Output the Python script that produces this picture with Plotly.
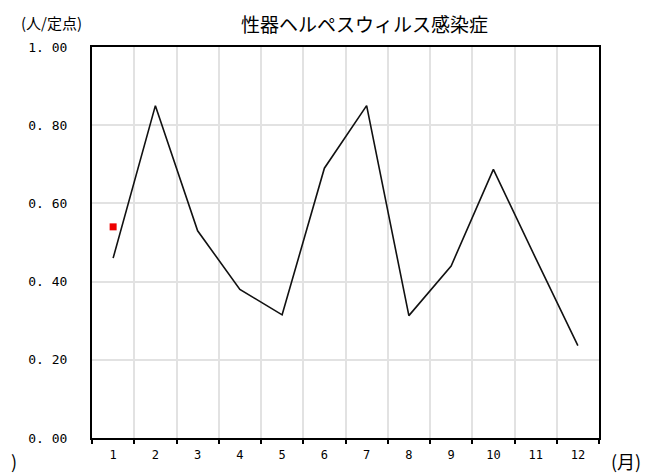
import plotly.graph_objects as go

months = list(range(1, 13))
month_labels = [str(m) for m in months]
avg_values = [0.46, 0.85, 0.53, 0.38, 0.315, 0.69, 0.85, 0.313, 0.44, 0.687, 0.46, 0.236]
current_months = [1]
current_values = [0.54]
y_ticks = [0.0, 0.2, 0.4, 0.6, 0.8, 1.0]
y_tick_labels = ["0. 00", "0. 20", "0. 40", "0. 60", "0. 80", "1. 00"]
boundaries = [m - 0.5 for m in months] + [12.5]

fig = go.Figure()
fig.add_trace(go.Scatter(x=months, y=avg_values, mode="lines",
                         line=dict(color="#111111", width=1.6), showlegend=False))
fig.add_trace(go.Scatter(x=current_months, y=current_values, mode="markers",
                         marker=dict(color="#ee0000", size=7, symbol="square"),
                         showlegend=False))

mono = "DejaVu Sans Mono"
jp = "Noto Sans CJK JP"

fig.update_layout(
    width=670, height=474,
    margin=dict(l=84, r=79, t=39, b=44),
    paper_bgcolor="white", plot_bgcolor="white",
    font=dict(family=jp, color="black"),
    xaxis=dict(
        range=[0.5, 12.5], tickmode="array", tickvals=months, ticktext=month_labels,
        showgrid=False, ticks="", tickfont=dict(family=mono, size=12, color="black"),
        showline=True, linecolor="black", linewidth=2, mirror=True,
        ticklabelstandoff=5, zeroline=False,
        minor=dict(tickmode="array", tickvals=boundaries, showgrid=True,
                   gridcolor="#e2e2e2", gridwidth=1.5, ticks="outside",
                   ticklen=4, tickcolor="black", tickwidth=1.5),
    ),
    yaxis=dict(
        range=[0, 1], tickmode="array", tickvals=y_ticks, ticktext=y_tick_labels,
        showgrid=True, gridcolor="#e2e2e2", gridwidth=1.5, ticks="",
        tickfont=dict(family=mono, size=13, color="black"),
        showline=True, linecolor="black", linewidth=2, mirror=True,
        zeroline=False, ticklabelstandoff=20,
    ),
    annotations=[
        dict(text="性器ヘルペスウィルス感染症", xref="paper", yref="paper",
             x=0.538, y=1.0, yshift=24, xanchor="center", yanchor="middle",
             showarrow=False, font=dict(family=jp, size=19, color="black")),
        dict(text="(人/定点)", xref="paper", yref="paper",
             x=0.0, xshift=-73, y=1.0, yshift=25, xanchor="left", yanchor="middle",
             showarrow=False, font=dict(family=jp, size=15, color="black")),
        dict(text="(月)", xref="paper", yref="paper",
             x=1.0, xshift=10, y=0.0, yshift=-23, xanchor="left", yanchor="middle",
             showarrow=False, font=dict(family=jp, size=18, color="black")),
        dict(text=")", xref="paper", yref="paper",
             x=0.0, xshift=-83, y=0.0, yshift=-23, xanchor="left", yanchor="middle",
             showarrow=False, font=dict(family=jp, size=18, color="black")),
    ],
)

fig.write_html("out.html")
